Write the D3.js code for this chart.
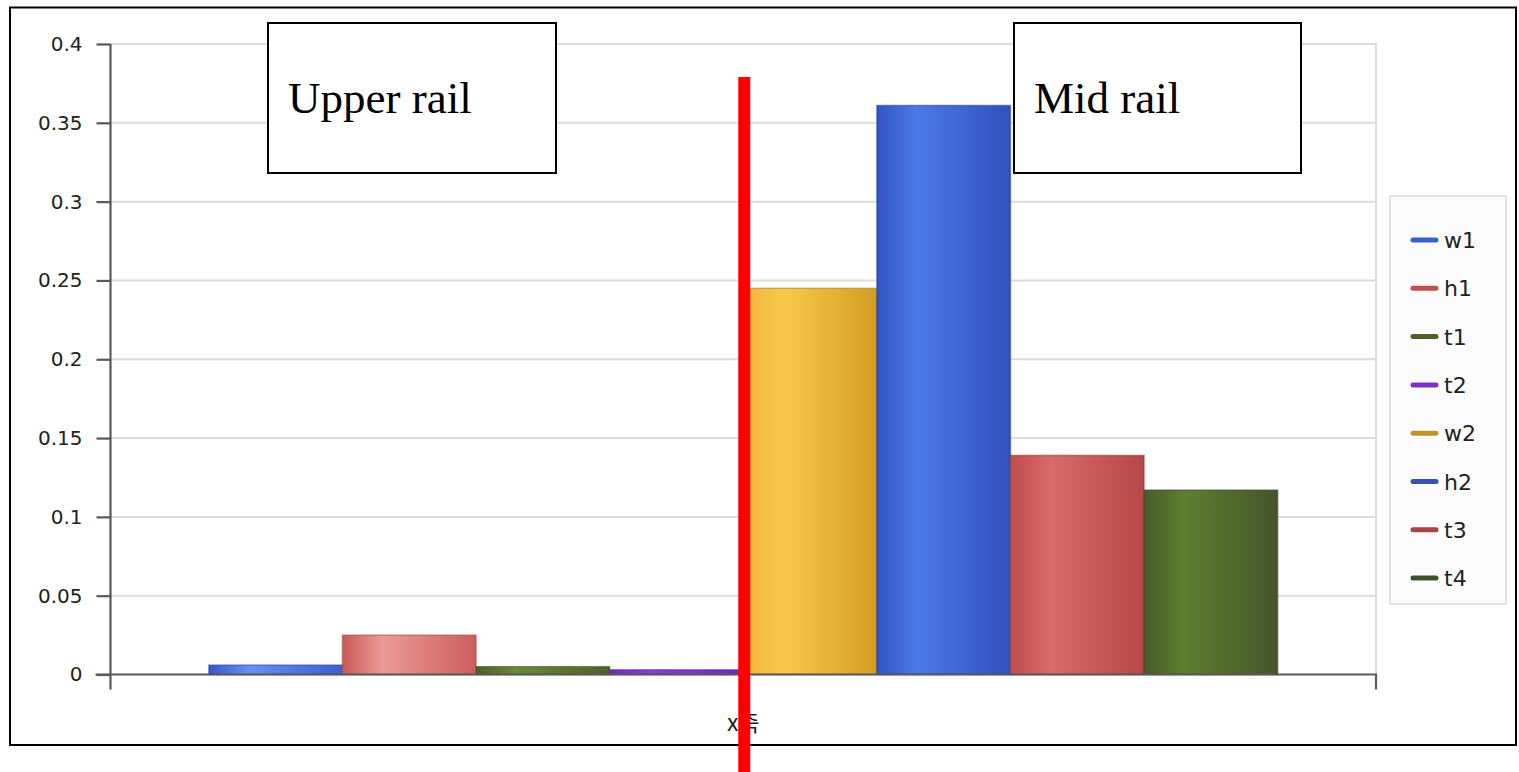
<!DOCTYPE html>
<html>
<head>
<meta charset="utf-8">
<script src="https://cdn.jsdelivr.net/npm/d3@7"></script>
<style>
  html, body { margin: 0; padding: 0; background: #fff; }
  svg { display: block; }
</style>
</head>
<body>
<svg id="chart" width="1519" height="772"></svg>
<script>
// Chart data
const categories = ["x축"];
const series = ["w1", "h1", "t1", "t2", "w2", "h2", "t3", "t4"];
const values = [0.006, 0.025, 0.005, 0.003, 0.245, 0.361, 0.139, 0.117];
const yTicks = [0, 0.05, 0.1, 0.15, 0.2, 0.25, 0.3, 0.35, 0.4];
const yTickLabels = ["0", "0.05", "0.1", "0.15", "0.2", "0.25", "0.3", "0.35", "0.4"];
const notes = ["Upper rail", "Mid rail"];

// Per-series fill gradients: [edge, highlight, far edge] and legend swatch colour
const barShades = [
  ["#3557c8", "#6b8ff0", "#3a5fd2"],
  ["#c85857", "#ea9b99", "#cc5e5c"],
  ["#4a5f27", "#6b8b35", "#4c6229"],
  ["#7326c8", "#8a3ee0", "#7326c8"],
  ["#eeb53a", "#f9c94e", "#d49d22"],
  ["#3254c2", "#4c79e8", "#3050bd"],
  ["#c04c4c", "#d96b6b", "#b84646"],
  ["#475a2a", "#5e7e30", "#44552a"]
];
const legendColors = ["#3a5fd6", "#c0504d", "#4f6228", "#7f2fd0", "#c0962c", "#3553b2", "#a84444", "#3f5028"];

const svg = d3.select("#chart");
const W = 1519, H = 772;

// Outer frame
svg.append("rect")
  .attr("x", 10).attr("y", 7.5).attr("width", 1506).attr("height", 737.5)
  .attr("fill", "#fff").attr("stroke", "#000").attr("stroke-width", 2);

const plot = { left: 110.5, right: 1376, top: 44, bottom: 674.5 };

const y = d3.scaleLinear().domain([0, 0.4]).range([plot.bottom, plot.top]);
const x0 = d3.scaleBand().domain(categories).range([plot.left, plot.right])
  .paddingInner(0).paddingOuter(0.092);
const x1 = d3.scaleBand().domain(series).range([0, x0.bandwidth()]).padding(0);

// Gradients
const defs = svg.append("defs");
series.forEach((s, i) => {
  const g = defs.append("linearGradient").attr("id", "grad-" + s)
    .attr("x1", "0%").attr("x2", "100%").attr("y1", "0%").attr("y2", "0%");
  g.append("stop").attr("offset", "0%").attr("stop-color", barShades[i][0]);
  g.append("stop").attr("offset", "30%").attr("stop-color", barShades[i][1]);
  g.append("stop").attr("offset", "100%").attr("stop-color", barShades[i][2]);
});

// Gridlines
svg.append("g").selectAll("line").data(yTicks.filter(t => t > 0)).join("line")
  .attr("x1", plot.left).attr("x2", plot.right)
  .attr("y1", d => y(d)).attr("y2", d => y(d))
  .attr("stroke", "#dcdcdc").attr("stroke-width", 2);

// Right edge of the plot area
svg.append("line")
  .attr("x1", plot.right).attr("x2", plot.right)
  .attr("y1", plot.top - 1).attr("y2", plot.bottom)
  .attr("stroke", "#dcdcdc").attr("stroke-width", 2);

// Y axis
const yAxis = d3.axisLeft(y).tickValues(yTicks)
  .tickFormat((d, i) => yTickLabels[i]).tickSize(14).tickSizeOuter(0).tickPadding(14);
const yg = svg.append("g").attr("transform", `translate(${plot.left},0)`).call(yAxis);
yg.select(".domain").attr("stroke", "#595959").attr("stroke-width", 2.2)
  .attr("d", `M0,${plot.top}V${plot.bottom + 15}`);
yg.selectAll(".tick line").attr("stroke", "#595959").attr("stroke-width", 2.2);
yg.selectAll(".tick text")
  .attr("font-family", "'DejaVu Sans', Verdana, sans-serif")
  .attr("font-size", 20).attr("fill", "#222");

// Bars
const bars = svg.append("g");
categories.forEach(cat => {
  bars.selectAll("rect.bar").data(series.map((s, i) => ({ s, i, v: values[i] }))).join("rect")
    .attr("class", "bar")
    .attr("x", d => x0(cat) + x1(d.s))
    .attr("width", x1.bandwidth())
    .attr("y", d => y(d.v))
    .attr("height", d => y(0) - y(d.v))
    .attr("fill", d => `url(#grad-${d.s})`)
    .attr("stroke", d => d3.color(barShades[d.i][2]).darker(0.6))
    .attr("stroke-opacity", 0.55)
    .attr("stroke-width", 1.5);
});

// X axis
const xAxis = d3.axisBottom(x0).tickValues([]).tickSizeOuter(15);
const xg = svg.append("g").attr("transform", `translate(0,${plot.bottom})`).call(xAxis);
xg.select(".domain").attr("stroke", "#595959").attr("stroke-width", 2.2)
  .attr("d", `M${plot.left - 15},0H${plot.right}V15`);

svg.append("text")
  .attr("x", x0(categories[0]) + x0.bandwidth() / 2)
  .attr("y", 731)
  .attr("text-anchor", "middle")
  .attr("font-family", "'Noto Sans CJK KR', 'DejaVu Sans', sans-serif")
  .attr("font-size", 23).attr("fill", "#222")
  .text(categories[0]);

// Legend
const legend = svg.append("g");
legend.append("rect")
  .attr("x", 1390).attr("y", 196).attr("width", 116).attr("height", 408)
  .attr("fill", "#fcfcfc").attr("stroke", "#d9d9d9").attr("stroke-width", 1.5);
const li = legend.selectAll("g.item").data(series).join("g")
  .attr("class", "item")
  .attr("transform", (d, i) => `translate(1413,${240 + i * 48.3})`);
li.append("line").attr("x1", 0).attr("x2", 23).attr("y1", 0).attr("y2", 0)
  .attr("stroke", (d, i) => legendColors[i]).attr("stroke-width", 5)
  .attr("stroke-linecap", "round");
li.append("text").attr("x", 31).attr("y", 8)
  .attr("font-family", "'DejaVu Sans', Verdana, sans-serif")
  .attr("font-size", 22).attr("fill", "#222")
  .text(d => d);

// Divider between rails at the category centre
svg.append("line")
  .attr("x1", x0(categories[0]) + x0.bandwidth() / 2 + 1)
  .attr("x2", x0(categories[0]) + x0.bandwidth() / 2 + 1)
  .attr("y1", 77).attr("y2", H)
  .attr("stroke", "#ff0000").attr("stroke-width", 12);

// Rail annotation boxes
const boxes = [
  { label: notes[0], x: 268, y: 23, w: 288, h: 150 },
  { label: notes[1], x: 1014, y: 23, w: 287, h: 150 }
];
const bg = svg.append("g").selectAll("g").data(boxes).join("g");
bg.append("rect")
  .attr("x", d => d.x).attr("y", d => d.y).attr("width", d => d.w).attr("height", d => d.h)
  .attr("fill", "#fff").attr("stroke", "#000").attr("stroke-width", 2);
bg.append("text")
  .attr("x", d => d.x + 20).attr("y", d => d.y + 90)
  .attr("font-family", "'Liberation Serif', 'Times New Roman', serif")
  .attr("font-size", 45).attr("fill", "#000")
  .text(d => d.label);
</script>
</body>
</html>
